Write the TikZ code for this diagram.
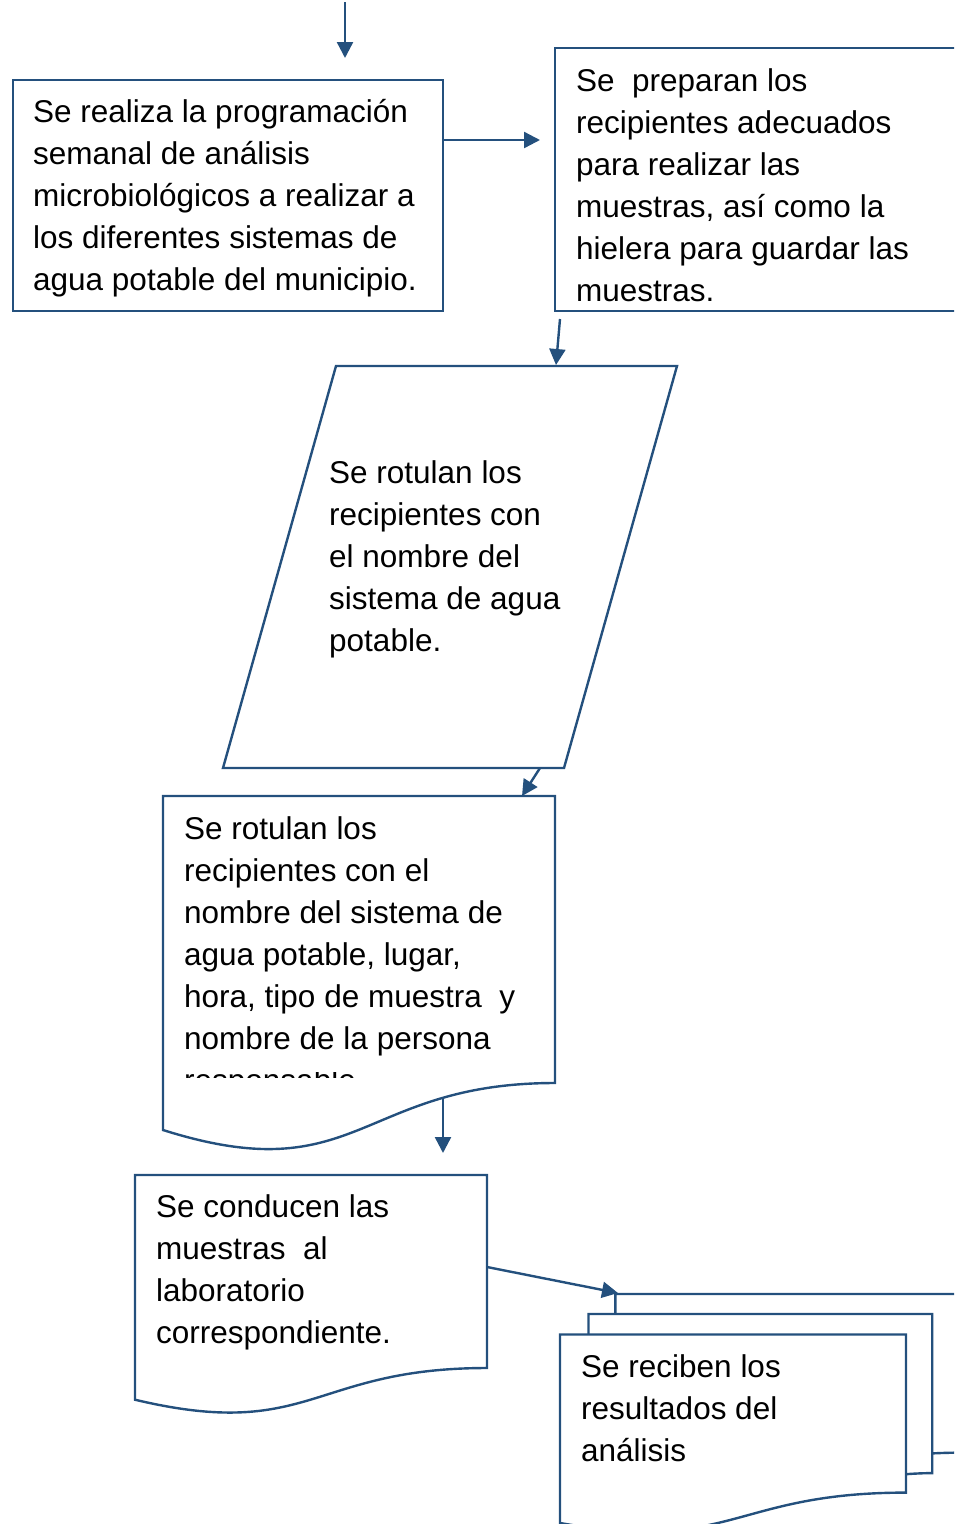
\documentclass[tikz,border=0pt]{standalone}
\usepackage{fontspec}
\setmainfont{Liberation Sans}
\usetikzlibrary{arrows.meta}
\definecolor{flow}{RGB}{36,80,125}
\begin{document}
\begin{tikzpicture}[x=1pt,y=-1pt,
  shapeline/.style={draw=flow,line width=2.4pt},
  conn/.style={draw=flow,line width=2.4pt,-{Triangle[length=16pt,width=16pt]}},
  txt/.style={anchor=base west,inner sep=0pt,align=left,font=\fontsize{31.5}{42}\selectfont}]
\useasboundingbox (0,0) rectangle (954,1524);
\begin{scope}
\clip (0,0) rectangle (954,1524);
% shapes
\draw[shapeline] (13,80) rectangle (443,311);
\draw[shapeline] (555,48) rectangle (975,311);
\draw[shapeline] (336,366) -- (677,366) -- (564,768) -- (223,768) -- cycle;
\draw[shapeline] (163,796) -- (555,796) -- (555,1083) .. controls (359,1083) and (359,1192) .. (163,1130) -- cycle;
\draw[shapeline] (135,1175) -- (487,1175) -- (487,1368) .. controls (311,1368) and (311,1441.5) .. (135,1399.7) -- cycle;
% multidocument
\draw[shapeline] (560,1334.5) -- (906,1334.5) -- (906,1492.6) .. controls (733,1492.6) and (733,1553.4) .. (560,1523) -- cycle;
\draw[shapeline] (588.5,1334.5) -- (588.5,1314) -- (932.2,1314) -- (932.2,1473.1) .. controls (919.2,1473.1) and (906,1474.2) .. (906,1474.2);
\draw[shapeline] (615.3,1314) -- (615.3,1294) -- (962,1294) -- (962,1452.6) .. controls (947.1,1452.6) and (932.2,1453.4) .. (932.2,1453.4);
% texts (anchor = baseline of last line)
\node[txt] (t1) at (33,290) {Se realiza la programación\\semanal de análisis\\microbiológicos a realizar a\\los diferentes sistemas de\\agua potable del municipio.};
\node[txt] (t2) at (576,301) {Se\ \ preparan los\\recipientes adecuados\\para realizar las\\muestras, así como la\\hielera para guardar las\\muestras.};
\node[txt] (t3) at (329,651) {Se rotulan los\\recipientes con\\el nombre del\\sistema de agua\\potable.};
\node[txt] (t4) at (184,1049) {Se rotulan los\\recipientes con el\\nombre del sistema de\\agua potable, lugar,\\hora, tipo de muestra\ \ y\\nombre de la persona};
\begin{scope}
\clip (150,1072) rectangle (560,1077);
\node[txt] (t4b) at (184,1091) {responsable};
\end{scope}
\node[txt] (t5) at (156,1343) {Se conducen las\\muestras\ \ al\\laboratorio\\correspondiente.};
\node[txt] (t6) at (581,1461) {Se reciben los\\resultados del\\análisis};
% connector end points
\coordinate (in) at (345,2);   \coordinate (inE) at (345,58);
\coordinate (a1s) at (443,140); \coordinate (a1e) at (540,140);
\coordinate (a2s) at (560,319); \coordinate (a2e) at (556,365);
\coordinate (a3s) at (540,768); \coordinate (a3e) at (522,796);
\coordinate (a4s) at (443,1098); \coordinate (a4e) at (443,1153);
\coordinate (a5s) at (487,1267); \coordinate (a5e) at (618,1293);
\draw[conn] (in) -- (inE);
\draw[conn] (a1s) -- (a1e);
\draw[conn] (a2s) -- (a2e);
\draw[conn] (a3s) -- (a3e);
\draw[conn] (a4s) -- (a4e);
\draw[conn] (a5s) -- (a5e);
\end{scope}
\end{tikzpicture}
\end{document}
